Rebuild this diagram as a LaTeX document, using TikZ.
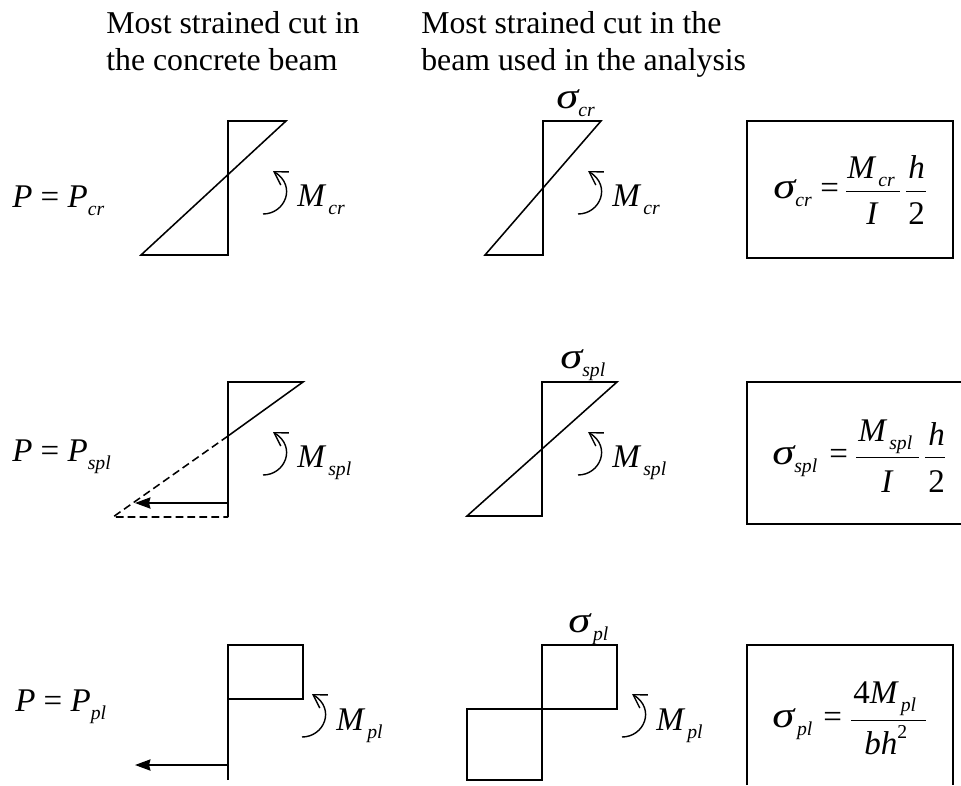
\documentclass[tikz,border=0pt]{standalone}
\usepackage{graphicx}
\usepackage{fontspec}
\setmainfont{Liberation Serif}
\usepackage{tikz}
\usetikzlibrary{arrows.meta}
% subscript and Greek letter used in all the labels
\newcommand{\lowidx}[2][0pt]{\kern#1\raisebox{-0.25em}{\fontsize{14}{15}\selectfont\itshape #2}}
\newcommand{\sgm}{\scalebox{1.22}[1]{\fontsize{26}{27}\selectfont\itshape σ}}
\tikzset{
  eqlabel/.style={anchor=base west,inner sep=0,font=\fontsize{23.5}{26}\selectfont\itshape},
  headtext/.style={anchor=north west,inner sep=0,align=left,font=\fontsize{22.6}{26.3}\selectfont},
  cutline/.style={line width=1.1pt,line join=miter},
  deadline/.style={line width=1.1pt,dash pattern=on 5.5pt off 3pt},
  pushline/.style={line width=1.1pt,-{Stealth[length=11pt,width=8pt,inset=1pt]}},
  moment/.style={line width=1pt,-{Straight Barb[length=9pt,width=11pt]}},
  eqbox/.style={line width=1.2pt},
  fracbar/.style={line width=0.7pt}
}
\begin{document}
\begin{tikzpicture}[x=0.025cm,y=-0.025cm]
    \useasboundingbox (0,0) rectangle (961,785);
    % column titles
    \node[headtext] (head1) at (106,11) {Most strained cut in\\the concrete beam};
    \node[headtext] (head2) at (421,11) {Most strained cut in the\\beam used in the analysis};
    % load levels
    \node[eqlabel] (load1) at (12,207) {P \textup{=} P\lowidx{cr}};
    \node[eqlabel] (load2) at (12,461) {P \textup{=} P\lowidx{spl}};
    \node[eqlabel] (load3) at (15,711) {P \textup{=} P\lowidx{pl}};
    % real stress blocks
    \draw[cutline] (286,121)--(228,121)--(228,255)--(141,255)--cycle;
    \draw[cutline] (228,517)--(228,382)--(303,382)--(228,436);
    \draw[deadline] (228,436)--(113,517)--(228,517);
    \coordinate (tail2) at (228,503);
    \coordinate (tip2) at (135,503);
    \draw[pushline] (tail2)--(tip2);
    \draw[cutline] (228,780)--(228,645)--(303,645)--(303,699)--(228,699);
    \coordinate (tail3) at (228,765);
    \coordinate (tip3) at (135,765);
    \draw[pushline] (tail3)--(tip3);
    % analysis stress blocks
    \draw[cutline] (601,121)--(543,121)--(543,255)--(485,255)--cycle;
    \draw[cutline] (617,382)--(542,382)--(542,516)--(467,516)--cycle;
    \draw[cutline] (542,709)--(542,645)--(617,645)--(617,709)--(467,709)--(467,780)--(542,780)--cycle;
    % bending moment arrows
    \foreach \mx/\my in {263/214,578/214,263/475,578/475,302/737,622/737}
      \draw[moment,shift={(\mx,\my)}] (0,0) .. controls (22,0) and (34,-28) .. (10,-43);
    \node[eqlabel] (mom1) at (297,206) {M\lowidx[2.5pt]{cr}};
    \node[eqlabel] (mom2) at (612,206) {M\lowidx[2.5pt]{cr}};
    \node[eqlabel] (mom3) at (297,467) {M\lowidx[2.5pt]{spl}};
    \node[eqlabel] (mom4) at (612,467) {M\lowidx[2.5pt]{spl}};
    \node[eqlabel] (mom5) at (336,730) {M\lowidx[2.5pt]{pl}};
    \node[eqlabel] (mom6) at (656,730) {M\lowidx[2.5pt]{pl}};
    % stress names over the blocks
    \node[eqlabel] (sig1) at (556,108) {\sgm\lowidx{cr}};
    \node[eqlabel] (sig2) at (560,368) {\sgm\lowidx{spl}};
    \node[eqlabel] (sig3) at (568,632) {\sgm\lowidx[2pt]{pl}};
    % boxed results
    \draw[eqbox] (747,121) rectangle (953,258);
    \node[eqlabel] (res1) at (773,198) {\sgm\lowidx{cr}};
    \node[eqlabel] (eq1) at (820,198) {\textup{=}};
    \node[eqlabel] (num1) at (847,178) {M\lowidx[2.5pt]{cr}};
    \node[eqlabel] (den1) at (866,224) {I};
    \node[eqlabel] (numb1) at (908,178) {h};
    \node[eqlabel] (denb1) at (908,224) {\textup{2}};
    \draw[fracbar] (846,191)--(900,191);
    \draw[fracbar] (906,191)--(926,191);
    \draw[eqbox] (961,382)--(747,382)--(747,524)--(961,524);
    \node[eqlabel] (res2) at (772,464) {\sgm\lowidx{spl}};
    \node[eqlabel] (eq2) at (829,464) {\textup{=}};
    \node[eqlabel] (num2) at (858,441) {M\lowidx[2.5pt]{spl}};
    \node[eqlabel] (den2) at (881,492) {I};
    \node[eqlabel] (numb2) at (928,445) {h};
    \node[eqlabel] (denb2) at (928,492) {\textup{2}};
    \draw[fracbar] (856,457)--(919,457);
    \draw[fracbar] (925,457)--(945,457);
    \draw[eqbox] (747,785)--(747,645)--(953,645)--(953,785);
    \node[eqlabel] (res3) at (772,727) {\sgm\lowidx[2pt]{pl}};
    \node[eqlabel] (eq3) at (823,727) {\textup{=}};
    \node[eqlabel] (num3) at (853,703) {\textup{4}M\lowidx[2.5pt]{pl}};
    \node[eqlabel] (den3) at (864,754) {bh\raisebox{0.48em}{\fontsize{14}{15}\selectfont\textup{2}}};
    \draw[fracbar] (851,720)--(926,720);
\end{tikzpicture}
\end{document}
